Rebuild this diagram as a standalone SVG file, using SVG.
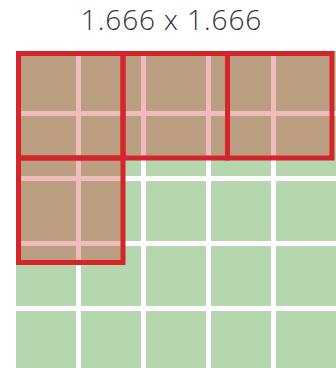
<svg xmlns="http://www.w3.org/2000/svg" width="336" height="368" viewBox="0 0 336 368">
<style>
.cell{fill:#b5d6ae}
.box{fill:rgb(204,34,34);fill-opacity:0.3;stroke:#d4252b;stroke-width:5}
.title{font-family:"Open Sans","Liberation Sans",sans-serif;font-weight:300;font-size:28px;letter-spacing:0.9px;fill:#333333}
</style>
<rect width="336" height="368" fill="#ffffff"/>
<g id="title"><text class="title" x="171.5" y="30" text-anchor="middle">1.666 x 1.666</text></g>
<g id="grid">
<rect class="cell" x="16" y="51" width="60" height="60"/><rect class="cell" x="81" y="51" width="60" height="60"/><rect class="cell" x="146" y="51" width="60" height="60"/><rect class="cell" x="211" y="51" width="60" height="60"/><rect class="cell" x="276" y="51" width="60" height="60"/>
<rect class="cell" x="16" y="116" width="60" height="60"/><rect class="cell" x="81" y="116" width="60" height="60"/><rect class="cell" x="146" y="116" width="60" height="60"/><rect class="cell" x="211" y="116" width="60" height="60"/><rect class="cell" x="276" y="116" width="60" height="60"/>
<rect class="cell" x="16" y="181" width="60" height="60"/><rect class="cell" x="81" y="181" width="60" height="60"/><rect class="cell" x="146" y="181" width="60" height="60"/><rect class="cell" x="211" y="181" width="60" height="60"/><rect class="cell" x="276" y="181" width="60" height="60"/>
<rect class="cell" x="16" y="246" width="60" height="60"/><rect class="cell" x="81" y="246" width="60" height="60"/><rect class="cell" x="146" y="246" width="60" height="60"/><rect class="cell" x="211" y="246" width="60" height="60"/><rect class="cell" x="276" y="246" width="60" height="60"/>
<rect class="cell" x="16" y="311" width="60" height="60"/><rect class="cell" x="81" y="311" width="60" height="60"/><rect class="cell" x="146" y="311" width="60" height="60"/><rect class="cell" x="211" y="311" width="60" height="60"/><rect class="cell" x="276" y="311" width="60" height="60"/>
</g>
<g id="box1"><rect class="box" x="18.5" y="53.5" width="104.5" height="104.5"/></g>
<g id="box2"><rect class="box" x="123" y="53.5" width="104.5" height="104.5"/></g>
<g id="box3"><rect class="box" x="227.5" y="53.5" width="104.5" height="104.5"/></g>
<g id="box4"><rect class="box" x="18.5" y="158" width="104.5" height="104.5"/></g>
</svg>
